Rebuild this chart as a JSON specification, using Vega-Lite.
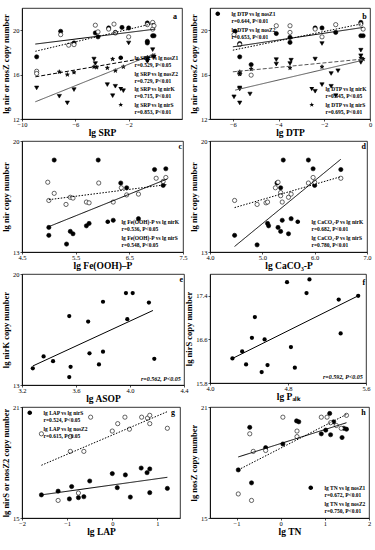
{
"$schema": "https://vega.github.io/schema/vega-lite/v6.json",
"padding": {"left": 1, "top": 7, "right": 4, "bottom": 2},
"background": "white",
"columns": 2,
"bounds": "flush",
"align": {"row": "all", "column": "none"},
"spacing": {"row": 22, "column": 26},
"resolve": {"scale": {"shape": "independent", "fill": "independent", "strokeDash": "independent", "stroke": "independent"}, "legend": {"shape": "independent", "fill": "independent", "strokeDash": "independent", "stroke": "independent"}},
"config": {
  "view": {"stroke": "black", "strokeWidth": 0.8},
  "axis": {"labelFont": "Liberation Serif", "labelFontSize": 6.5, "labelColor": "#000", "labelOverlap": false, "labelFlush": false, "titleFont": "Liberation Serif", "titleFontWeight": "bold", "titleFontSize": 8.5, "titleColor": "black", "domainColor": "black", "tickColor": "black", "tickSize": 2, "tickWidth": 0.7, "domainWidth": 0.8, "labelPadding": 1, "titlePadding": 2, "grid": false},
  "axisX": {"titleFontSize": 9.5, "labelPadding": 0, "titlePadding": 0},
  "legend": {"labelFont": "Liberation Serif", "labelFontSize": 5.5, "labelFontWeight": "bold", "labelColor": "black", "rowPadding": 0, "padding": 1, "offset": 2, "symbolSize": 16, "labelOffset": 13, "symbolStrokeColor": "black", "symbolStrokeWidth": 0.8, "symbolOpacity": 1, "labelLimit": 0},
  "title": {"anchor": "end", "orient": "top", "offset": -13, "dx": -5, "font": "Liberation Serif", "fontWeight": "bold", "fontSize": 8, "color": "black"}
},
"concat": [
 {"width": 160, "height": 111, "title": {"text": "a"},
  "layer": [
   {"data": {"values": [
    {"x":-8.9,"y":17.6,"s":"nosZ1"},{"x":-7.1,"y":19.9,"s":"nosZ1"},{"x":-6.1,"y":18.85,"s":"nosZ1"},{"x":-4.5,"y":19.75,"s":"nosZ1"},{"x":-4.3,"y":19.4,"s":"nosZ1"},{"x":-3.5,"y":20.2,"s":"nosZ1"},{"x":-3.0,"y":19.8,"s":"nosZ1"},{"x":-2.5,"y":20.25,"s":"nosZ1"},{"x":-2.0,"y":20.2,"s":"nosZ1"},{"x":-0.6,"y":20.65,"s":"nosZ1"},{"x":-0.6,"y":19.0,"s":"nosZ1"},{"x":-0.6,"y":18.85,"s":"nosZ1"},{"x":-0.2,"y":19.5,"s":"nosZ1"},{"x":-0.1,"y":19.5,"s":"nosZ1"},
    {"x":-8.9,"y":16.3,"s":"nosZ2"},{"x":-8.9,"y":16.1,"s":"nosZ2"},{"x":-7.1,"y":19.6,"s":"nosZ2"},{"x":-6.5,"y":18.65,"s":"nosZ2"},{"x":-6.1,"y":18.7,"s":"nosZ2"},{"x":-4.5,"y":20.45,"s":"nosZ2"},{"x":-4.3,"y":19.85,"s":"nosZ2"},{"x":-3.5,"y":20.1,"s":"nosZ2"},{"x":-3.1,"y":20.55,"s":"nosZ2"},{"x":-3.0,"y":19.75,"s":"nosZ2"},{"x":-2.0,"y":19.4,"s":"nosZ2"},{"x":-0.6,"y":20.5,"s":"nosZ2"},{"x":-0.2,"y":20.7,"s":"nosZ2"},{"x":-0.2,"y":20.1,"s":"nosZ2"},{"x":-0.1,"y":20.4,"s":"nosZ2"},
    {"x":-8.9,"y":14.8,"s":"nirK"},{"x":-7.2,"y":14.05,"s":"nirK"},{"x":-6.6,"y":13.45,"s":"nirK"},{"x":-6.1,"y":14.65,"s":"nirK"},{"x":-4.6,"y":17.4,"s":"nirK"},{"x":-4.5,"y":17.0,"s":"nirK"},{"x":-3.6,"y":15.1,"s":"nirK"},{"x":-3.2,"y":14.1,"s":"nirK"},{"x":-3.0,"y":14.95,"s":"nirK"},{"x":-2.4,"y":14.55,"s":"nirK"},{"x":-2.0,"y":18.85,"s":"nirK"},{"x":-0.6,"y":17.4,"s":"nirK"},{"x":-0.6,"y":17.2,"s":"nirK"},{"x":-0.2,"y":18.25,"s":"nirK"},{"x":-0.1,"y":17.6,"s":"nirK"},
    {"x":-7.2,"y":16.25,"s":"nirS"},{"x":-6.6,"y":16.0,"s":"nirS"},{"x":-6.1,"y":16.2,"s":"nirS"},{"x":-4.6,"y":16.7,"s":"nirS"},{"x":-4.4,"y":16.65,"s":"nirS"},{"x":-3.6,"y":16.6,"s":"nirS"},{"x":-3.2,"y":17.4,"s":"nirS"},{"x":-3.0,"y":16.35,"s":"nirS"},{"x":-2.4,"y":16.7,"s":"nirS"},{"x":-0.6,"y":17.55,"s":"nirS"},{"x":-0.6,"y":17.3,"s":"nirS"},{"x":-0.2,"y":17.7,"s":"nirS"},{"x":-0.1,"y":17.65,"s":"nirS"}
   ]},
    "mark": {"type": "point", "filled": true, "stroke": "black", "strokeWidth": 0.6, "size": 18, "opacity": 1},
    "encoding": {
     "x": {"field": "x", "type": "quantitative", "scale": {"domain": [-10, 2], "nice": false, "zero": false}, "axis": {"values": [-10,-8,-6,-4,-2,0], "labelOverlap": false, "title": "lg SRP"}},
     "y": {"field": "y", "type": "quantitative", "scale": {"domain": [12, 22], "nice": false, "zero": false}, "axis": {"values": [12,14,16,18,20,22], "labelOverlap": false, "title": "lg nir or nosZ copy number"}},
     "shape": {"field": "s", "type": "nominal", "scale": {"domain": ["nosZ1","nosZ2","nirK","nirS"], "range": ["circle","circle","triangle-down","M0,-1L0.235,-0.324L0.951,-0.309L0.38,0.124L0.588,0.809L0,0.4L-0.588,0.809L-0.38,0.124L-0.951,-0.309L-0.235,-0.324Z"]}, "legend": null},
     "fill": {"field": "s", "type": "nominal", "scale": {"domain": ["nosZ1","nosZ2","nirK","nirS"], "range": ["black","white","black","black"]}, "legend": null}
    }},
   {"data": {"values": [
    {"x":-9,"y":18.75,"s":"nosZ1"},{"x":0,"y":20.1,"s":"nosZ1"},
    {"x":-9,"y":18.1,"s":"nosZ2"},{"x":0,"y":20.65,"s":"nosZ2"},
    {"x":-9,"y":13.55,"s":"nirK"},{"x":0,"y":17.9,"s":"nirK"},
    {"x":-9,"y":15.8,"s":"nirS"},{"x":0,"y":17.65,"s":"nirS"}
   ]},
    "mark": {"type": "line", "strokeWidth": 1},
    "encoding": {
     "x": {"field": "x", "type": "quantitative"},
     "y": {"field": "y", "type": "quantitative"},
     "strokeDash": {"field": "s", "type": "nominal", "scale": {"domain": ["nosZ1","nosZ2","nirK","nirS"], "range": [[1,0],[1.5,1.5],[1,0],[4,2]]}, "legend": null},
     "stroke": {"field": "s", "type": "nominal", "scale": {"domain": ["nosZ1","nosZ2","nirK","nirS"], "range": ["black","black","#555","black"]}, "legend": null}
    }},
   {"data": {"values": [{"leg":"lg SPR vs lg nosZ1"},{"leg":"r=0.529, P<0.05"},{"leg":"lg SRP vs lg nosZ2"},{"leg":"r=0.729, P<0.01"},{"leg":"lg SRP vs lg nirK"},{"leg":"r=0.715, P<0.01"},{"leg":"lg SRP vs lg nirS"},{"leg":"r=0.853, P<0.01"}]},
    "transform": [{"filter": "false"}],
    "mark": {"type": "point", "filled": true, "stroke": "black", "strokeWidth": 0.8, "size": 16, "opacity": 1},
    "encoding": {
     "shape": {"field": "leg", "type": "nominal", "scale": {"domain": ["lg SPR vs lg nosZ1","r=0.529, P<0.05","lg SRP vs lg nosZ2","r=0.729, P<0.01","lg SRP vs lg nirK","r=0.715, P<0.01","lg SRP vs lg nirS","r=0.853, P<0.01"], "range": ["M-0.15,0A1.15,1.15,0,1,1,2.15,0A1.15,1.15,0,1,1,-0.15,0Z","M-1,0L7,0","M-0.15,0A1.15,1.15,0,1,1,2.15,0A1.15,1.15,0,1,1,-0.15,0Z","M-1,0L7,0","M-0.2,-0.9L2.2,-0.9L1,1.2Z","M-1,0L7,0","M1,-1.3L1.305,-0.421L2.236,-0.402L1.494,0.161L1.764,1.052L1,0.52L0.236,1.052L0.506,0.161L-0.236,-0.402L0.695,-0.421Z","M-1,0L7,0"]}, "legend": {"orient": "bottom-right", "title": null}},
     "fill": {"field": "leg", "type": "nominal", "scale": {"domain": ["lg SPR vs lg nosZ1","r=0.529, P<0.05","lg SRP vs lg nosZ2","r=0.729, P<0.01","lg SRP vs lg nirK","r=0.715, P<0.01","lg SRP vs lg nirS","r=0.853, P<0.01"], "range": ["black","transparent","white","transparent","black","transparent","black","transparent"]}, "legend": {"orient": "bottom-right", "title": null}},
     "strokeDash": {"field": "leg", "type": "nominal", "scale": {"domain": ["lg SPR vs lg nosZ1","r=0.529, P<0.05","lg SRP vs lg nosZ2","r=0.729, P<0.01","lg SRP vs lg nirK","r=0.715, P<0.01","lg SRP vs lg nirS","r=0.853, P<0.01"], "range": [[1,0],[1,0],[1,0],[1.5,1.5],[1,0],[1,0],[1,0],[4,2]]}, "legend": {"orient": "bottom-right", "title": null}}
    }}
  ],
  "resolve": {"scale": {"shape": "independent", "fill": "independent", "strokeDash": "independent", "stroke": "independent"}}
 },
 {"width": 160, "height": 111, "title": {"text": "b"},
  "layer": [
   {"data": {"values": [
    {"x":-5.9,"y":19.9,"s":"nosZ1"},{"x":-5.7,"y":18.8,"s":"nosZ1"},{"x":-5.7,"y":17.6,"s":"nosZ1"},{"x":-5.2,"y":16.9,"s":"nosZ1"},{"x":-4.1,"y":19.7,"s":"nosZ1"},{"x":-3.5,"y":19.35,"s":"nosZ1"},{"x":-3.5,"y":18.9,"s":"nosZ1"},{"x":-2.4,"y":20.2,"s":"nosZ1"},{"x":-2.1,"y":20.2,"s":"nosZ1"},{"x":-1.5,"y":19.8,"s":"nosZ1"},{"x":-0.4,"y":20.7,"s":"nosZ1"},{"x":-0.4,"y":19.5,"s":"nosZ1"},{"x":-0.3,"y":19.5,"s":"nosZ1"},
    {"x":-5.95,"y":19.6,"s":"nosZ2"},{"x":-5.7,"y":18.7,"s":"nosZ2"},{"x":-5.7,"y":16.1,"s":"nosZ2"},{"x":-5.2,"y":15.95,"s":"nosZ2"},{"x":-4.1,"y":20.4,"s":"nosZ2"},{"x":-3.5,"y":20.4,"s":"nosZ2"},{"x":-3.5,"y":19.8,"s":"nosZ2"},{"x":-2.4,"y":20.1,"s":"nosZ2"},{"x":-2.1,"y":19.4,"s":"nosZ2"},{"x":-1.5,"y":20.5,"s":"nosZ2"},{"x":-0.4,"y":20.55,"s":"nosZ2"},{"x":-0.3,"y":20.1,"s":"nosZ2"},
    {"x":-5.95,"y":14.0,"s":"nirK"},{"x":-5.7,"y":14.8,"s":"nirK"},{"x":-5.7,"y":14.7,"s":"nirK"},{"x":-5.7,"y":13.45,"s":"nirK"},{"x":-5.25,"y":14.25,"s":"nirK"},{"x":-4.1,"y":17.35,"s":"nirK"},{"x":-4.1,"y":16.95,"s":"nirK"},{"x":-3.5,"y":17.0,"s":"nirK"},{"x":-3.45,"y":17.3,"s":"nirK"},{"x":-2.4,"y":17.4,"s":"nirK"},{"x":-2.4,"y":14.5,"s":"nirK"},{"x":-2.1,"y":18.8,"s":"nirK"},{"x":-2.1,"y":15.1,"s":"nirK"},{"x":-1.7,"y":14.95,"s":"nirK"},{"x":-1.7,"y":16.1,"s":"nirK"},{"x":-1.5,"y":14.1,"s":"nirK"},{"x":-1.4,"y":16.35,"s":"nirK"},{"x":-0.4,"y":18.2,"s":"nirK"},{"x":-0.4,"y":17.7,"s":"nirK"},{"x":-0.4,"y":17.1,"s":"nirK"},
    {"x":-5.7,"y":16.25,"s":"nirS"},{"x":-5.7,"y":16.05,"s":"nirS"},{"x":-5.2,"y":16.5,"s":"nirS"},{"x":-3.5,"y":16.6,"s":"nirS"},{"x":-2.1,"y":16.7,"s":"nirS"},{"x":-0.4,"y":17.5,"s":"nirS"},{"x":-0.3,"y":17.4,"s":"nirS"}
   ]},
    "mark": {"type": "point", "filled": true, "stroke": "black", "strokeWidth": 0.6, "size": 18, "opacity": 1},
    "encoding": {
     "x": {"field": "x", "type": "quantitative", "scale": {"domain": [-7, 0], "nice": false, "zero": false}, "axis": {"values": [-6,-4,-2,0], "labelOverlap": false, "title": "lg DTP"}},
     "y": {"field": "y", "type": "quantitative", "scale": {"domain": [12, 22], "nice": false, "zero": false}, "axis": {"values": [12,14,16,18,20,22], "labelOverlap": false, "title": "lg nir or nosZ copy number"}},
     "shape": {"field": "s", "type": "nominal", "scale": {"domain": ["nosZ1","nosZ2","nirK","nirS"], "range": ["circle","circle","triangle-down","M0,-1L0.235,-0.324L0.951,-0.309L0.38,0.124L0.588,0.809L0,0.4L-0.588,0.809L-0.38,0.124L-0.951,-0.309L-0.235,-0.324Z"]}, "legend": null},
     "fill": {"field": "s", "type": "nominal", "scale": {"domain": ["nosZ1","nosZ2","nirK","nirS"], "range": ["black","white","black","black"]}, "legend": null}
    }},
   {"data": {"values": [
    {"x":-6,"y":18.5,"s":"nosZ1"},{"x":-0.3,"y":20.25,"s":"nosZ1"},
    {"x":-6,"y":18.2,"s":"nosZ2"},{"x":-0.3,"y":20.6,"s":"nosZ2"},
    {"x":-5.9,"y":14.6,"s":"nirK"},{"x":-0.3,"y":17.3,"s":"nirK"},
    {"x":-6,"y":16.25,"s":"nirS"},{"x":-0.3,"y":17.4,"s":"nirS"}
   ]},
    "mark": {"type": "line", "strokeWidth": 1},
    "encoding": {
     "x": {"field": "x", "type": "quantitative"},
     "y": {"field": "y", "type": "quantitative"},
     "strokeDash": {"field": "s", "type": "nominal", "scale": {"domain": ["nosZ1","nosZ2","nirK","nirS"], "range": [[1,0],[1.5,1.5],[1,0],[4,2]]}, "legend": null},
     "stroke": {"field": "s", "type": "nominal", "scale": {"domain": ["nosZ1","nosZ2","nirK","nirS"], "range": ["black","black","#555","#555"]}, "legend": null}
    }},
   {"data": {"values": [{"leg":"lg DTP vs lg nosZ1"},{"leg":"r=0.644, P<0.01"},{"leg":"lg DTP vs lg nosZ2"},{"leg":"r=0.653, P<0.01"}]},
    "transform": [{"filter": "false"}],
    "mark": {"type": "point", "filled": true, "stroke": "black", "strokeWidth": 0.8, "size": 16, "opacity": 1},
    "encoding": {
     "shape": {"field": "leg", "type": "nominal", "scale": {"domain": ["lg DTP vs lg nosZ1","r=0.644, P<0.01","lg DTP vs lg nosZ2","r=0.653, P<0.01"], "range": ["M-0.15,0A1.15,1.15,0,1,1,2.15,0A1.15,1.15,0,1,1,-0.15,0Z","M-1,0L7,0","M-0.15,0A1.15,1.15,0,1,1,2.15,0A1.15,1.15,0,1,1,-0.15,0Z","M-1,0L7,0"]}, "legend": {"orient": "top-left", "title": null}},
     "fill": {"field": "leg", "type": "nominal", "scale": {"domain": ["lg DTP vs lg nosZ1","r=0.644, P<0.01","lg DTP vs lg nosZ2","r=0.653, P<0.01"], "range": ["black","transparent","white","transparent"]}, "legend": {"orient": "top-left", "title": null}},
     "strokeDash": {"field": "leg", "type": "nominal", "scale": {"domain": ["lg DTP vs lg nosZ1","r=0.644, P<0.01","lg DTP vs lg nosZ2","r=0.653, P<0.01"], "range": [[1,0],[1,0],[1,0],[1.5,1.5]]}, "legend": {"orient": "top-left", "title": null}}
    }},
   {"data": {"values": [{"leg":"lg DTP vs lg nirK"},{"leg":"r=0.545, P<0.05"},{"leg":"lg DTP vs lg nirS"},{"leg":"r=0.695, P<0.01"}]},
    "transform": [{"filter": "false"}],
    "mark": {"type": "point", "filled": true, "stroke": "black", "strokeWidth": 0.8, "size": 16, "opacity": 1},
    "encoding": {
     "shape": {"field": "leg", "type": "nominal", "scale": {"domain": ["lg DTP vs lg nirK","r=0.545, P<0.05","lg DTP vs lg nirS","r=0.695, P<0.01"], "range": ["M-0.2,-0.9L2.2,-0.9L1,1.2Z","M-1,0L7,0","M1,-1.3L1.305,-0.421L2.236,-0.402L1.494,0.161L1.764,1.052L1,0.52L0.236,1.052L0.506,0.161L-0.236,-0.402L0.695,-0.421Z","M-1,0L7,0"]}, "legend": {"orient": "bottom-right", "title": null}},
     "fill": {"field": "leg", "type": "nominal", "scale": {"domain": ["lg DTP vs lg nirK","r=0.545, P<0.05","lg DTP vs lg nirS","r=0.695, P<0.01"], "range": ["black","transparent","black","transparent"]}, "legend": {"orient": "bottom-right", "title": null}},
     "strokeDash": {"field": "leg", "type": "nominal", "scale": {"domain": ["lg DTP vs lg nirK","r=0.545, P<0.05","lg DTP vs lg nirS","r=0.695, P<0.01"], "range": [[1,0],[1,0],[1,0],[4,2]]}, "legend": {"orient": "bottom-right", "title": null}}
    }}
  ],
  "resolve": {"scale": {"shape": "independent", "fill": "independent", "strokeDash": "independent", "stroke": "independent"}}
 },
 {"width": 161, "height": 111, "title": {"text": "c"},
  "layer": [
   {"data": {"values": [
    {"x":5.0,"y":14.55,"s":"nirK"},{"x":5.0,"y":14.05,"s":"nirK"},{"x":5.1,"y":18.8,"s":"nirK"},{"x":5.33,"y":13.5,"s":"nirK"},{"x":5.4,"y":14.3,"s":"nirK"},{"x":5.45,"y":14.15,"s":"nirK"},{"x":5.7,"y":14.65,"s":"nirK"},{"x":5.75,"y":14.8,"s":"nirK"},{"x":5.92,"y":18.8,"s":"nirK"},{"x":6.2,"y":15.0,"s":"nirK"},{"x":6.34,"y":17.35,"s":"nirK"},{"x":6.45,"y":17.05,"s":"nirK"},{"x":6.67,"y":15.1,"s":"nirK"},{"x":6.97,"y":18.2,"s":"nirK"},{"x":7.13,"y":17.2,"s":"nirK"},{"x":7.18,"y":18.25,"s":"nirK"},
    {"x":4.98,"y":17.4,"s":"nirS"},{"x":5.0,"y":16.25,"s":"nirS"},{"x":5.1,"y":16.7,"s":"nirS"},{"x":5.32,"y":16.0,"s":"nirS"},{"x":5.4,"y":16.45,"s":"nirS"},{"x":5.45,"y":16.4,"s":"nirS"},{"x":5.7,"y":16.15,"s":"nirS"},{"x":5.75,"y":16.1,"s":"nirS"},{"x":5.93,"y":17.35,"s":"nirS"},{"x":6.2,"y":16.15,"s":"nirS"},{"x":6.35,"y":17.05,"s":"nirS"},{"x":6.45,"y":16.6,"s":"nirS"},{"x":6.67,"y":16.65,"s":"nirS"},{"x":7.0,"y":17.65,"s":"nirS"},{"x":7.18,"y":17.7,"s":"nirS"},{"x":7.13,"y":17.45,"s":"nirS"}
   ]},
    "mark": {"type": "point", "filled": true, "stroke": "black", "strokeWidth": 0.6, "size": 18, "opacity": 1},
    "encoding": {
     "x": {"field": "x", "type": "quantitative", "scale": {"domain": [4.5, 7.5], "nice": false, "zero": false}, "axis": {"values": [4.5,5,5.5,6,6.5,7,7.5], "format": ".1f", "labelOverlap": false, "title": "lg Fe(OOH)–P"}},
     "y": {"field": "y", "type": "quantitative", "scale": {"domain": [13, 20], "nice": false, "zero": false}, "axis": {"values": [13,14,15,16,17,18,19,20], "labelOverlap": false, "title": "lg nir copy number"}},
     "shape": {"field": "s", "type": "nominal", "scale": {"domain": ["nirK","nirS"], "range": ["circle","circle"]}, "legend": null},
     "fill": {"field": "s", "type": "nominal", "scale": {"domain": ["nirK","nirS"], "range": ["black","white"]}, "legend": null}
    }},
   {"data": {"values": [
    {"x":5.0,"y":14.6,"s":"nirK"},{"x":7.2,"y":17.6,"s":"nirK"},
    {"x":5.0,"y":16.3,"s":"nirS"},{"x":7.2,"y":17.25,"s":"nirS"}
   ]},
    "mark": {"type": "line", "strokeWidth": 1, "color": "black"},
    "encoding": {
     "x": {"field": "x", "type": "quantitative"},
     "y": {"field": "y", "type": "quantitative"},
     "strokeDash": {"field": "s", "type": "nominal", "scale": {"domain": ["nirK","nirS"], "range": [[1,0],[1.5,1.5]]}, "legend": null}
    }},
   {"data": {"values": [{"leg":"lg Fe(OOH)-P vs lg nirK"},{"leg":"r=0.536, P<0.05"},{"leg":"lg Fe(OOH)-P vs lg nirS"},{"leg":"r=0.548, P<0.05"}]},
    "transform": [{"filter": "false"}],
    "mark": {"type": "point", "filled": true, "stroke": "black", "strokeWidth": 0.8, "size": 16, "opacity": 1},
    "encoding": {
     "shape": {"field": "leg", "type": "nominal", "scale": {"domain": ["lg Fe(OOH)-P vs lg nirK","r=0.536, P<0.05","lg Fe(OOH)-P vs lg nirS","r=0.548, P<0.05"], "range": ["M-0.15,0A1.15,1.15,0,1,1,2.15,0A1.15,1.15,0,1,1,-0.15,0Z","M-1,0L7,0","M-0.15,0A1.15,1.15,0,1,1,2.15,0A1.15,1.15,0,1,1,-0.15,0Z","M-1,0L7,0"]}, "legend": {"orient": "bottom-right", "title": null}},
     "fill": {"field": "leg", "type": "nominal", "scale": {"domain": ["lg Fe(OOH)-P vs lg nirK","r=0.536, P<0.05","lg Fe(OOH)-P vs lg nirS","r=0.548, P<0.05"], "range": ["black","transparent","white","transparent"]}, "legend": {"orient": "bottom-right", "title": null}},
     "strokeDash": {"field": "leg", "type": "nominal", "scale": {"domain": ["lg Fe(OOH)-P vs lg nirK","r=0.536, P<0.05","lg Fe(OOH)-P vs lg nirS","r=0.548, P<0.05"], "range": [[1,0],[1,0],[1,0],[1.5,1.5]]}, "legend": {"orient": "bottom-right", "title": null}}
    }}
  ],
  "resolve": {"scale": {"shape": "independent", "fill": "independent", "strokeDash": "independent"}}
 },
 {"width": 157, "height": 111, "title": {"text": "d"},
  "layer": [
   {"data": {"values": [
    {"x":4.47,"y":14.05,"s":"nirK"},{"x":4.9,"y":13.45,"s":"nirK"},{"x":5.1,"y":14.8,"s":"nirK"},{"x":5.12,"y":14.65,"s":"nirK"},{"x":5.28,"y":17.35,"s":"nirK"},{"x":5.35,"y":17.05,"s":"nirK"},{"x":5.4,"y":18.8,"s":"nirK"},{"x":5.3,"y":14.55,"s":"nirK"},{"x":5.35,"y":14.3,"s":"nirK"},{"x":5.38,"y":15.0,"s":"nirK"},{"x":5.5,"y":14.15,"s":"nirK"},{"x":5.55,"y":15.1,"s":"nirK"},{"x":5.88,"y":18.8,"s":"nirK"},{"x":5.97,"y":18.25,"s":"nirK"},{"x":6.0,"y":17.2,"s":"nirK"},{"x":6.5,"y":18.2,"s":"nirK"},
    {"x":4.47,"y":16.25,"s":"nirS"},{"x":4.9,"y":16.0,"s":"nirS"},{"x":5.07,"y":16.1,"s":"nirS"},{"x":5.1,"y":16.15,"s":"nirS"},{"x":5.25,"y":17.05,"s":"nirS"},{"x":5.3,"y":17.4,"s":"nirS"},{"x":5.35,"y":16.75,"s":"nirS"},{"x":5.35,"y":16.55,"s":"nirS"},{"x":5.38,"y":16.15,"s":"nirS"},{"x":5.5,"y":16.45,"s":"nirS"},{"x":5.55,"y":16.65,"s":"nirS"},{"x":5.88,"y":17.35,"s":"nirS"},{"x":5.97,"y":17.7,"s":"nirS"},{"x":6.0,"y":17.4,"s":"nirS"},{"x":6.5,"y":17.65,"s":"nirS"}
   ]},
    "mark": {"type": "point", "filled": true, "stroke": "black", "strokeWidth": 0.6, "size": 18, "opacity": 1},
    "encoding": {
     "x": {"field": "x", "type": "quantitative", "scale": {"domain": [4, 7], "nice": false, "zero": false}, "axis": {"values": [4,4.5,5,5.5,6,6.5,7], "format": ".1f", "labelOverlap": false, "title": "lg CaCO₃-P"}},
     "y": {"field": "y", "type": "quantitative", "scale": {"domain": [13, 20], "nice": false, "zero": false}, "axis": {"values": [13,14,15,16,17,18,19,20], "labelOverlap": false, "title": "lg nir copy number"}},
     "shape": {"field": "s", "type": "nominal", "scale": {"domain": ["nirK","nirS"], "range": ["circle","circle"]}, "legend": null},
     "fill": {"field": "s", "type": "nominal", "scale": {"domain": ["nirK","nirS"], "range": ["black","white"]}, "legend": null}
    }},
   {"data": {"values": [
    {"x":4.47,"y":13.35,"s":"nirK"},{"x":6.5,"y":18.85,"s":"nirK"},
    {"x":4.47,"y":15.8,"s":"nirS"},{"x":6.5,"y":17.75,"s":"nirS"}
   ]},
    "mark": {"type": "line", "strokeWidth": 1, "color": "black"},
    "encoding": {
     "x": {"field": "x", "type": "quantitative"},
     "y": {"field": "y", "type": "quantitative"},
     "strokeDash": {"field": "s", "type": "nominal", "scale": {"domain": ["nirK","nirS"], "range": [[1,0],[1.5,1.5]]}, "legend": null}
    }},
   {"data": {"values": [{"leg":"lg CaCO₃-P vs lg nirK"},{"leg":"r=0.682, P<0.01"},{"leg":"lg CaCO₃-P vs lg nirS"},{"leg":"r=0.780, P<0.01"}]},
    "transform": [{"filter": "false"}],
    "mark": {"type": "point", "filled": true, "stroke": "black", "strokeWidth": 0.8, "size": 16, "opacity": 1},
    "encoding": {
     "shape": {"field": "leg", "type": "nominal", "scale": {"domain": ["lg CaCO₃-P vs lg nirK","r=0.682, P<0.01","lg CaCO₃-P vs lg nirS","r=0.780, P<0.01"], "range": ["M-0.15,0A1.15,1.15,0,1,1,2.15,0A1.15,1.15,0,1,1,-0.15,0Z","M-1,0L7,0","M-0.15,0A1.15,1.15,0,1,1,2.15,0A1.15,1.15,0,1,1,-0.15,0Z","M-1,0L7,0"]}, "legend": {"orient": "bottom-right", "title": null}},
     "fill": {"field": "leg", "type": "nominal", "scale": {"domain": ["lg CaCO₃-P vs lg nirK","r=0.682, P<0.01","lg CaCO₃-P vs lg nirS","r=0.780, P<0.01"], "range": ["black","transparent","white","transparent"]}, "legend": {"orient": "bottom-right", "title": null}},
     "strokeDash": {"field": "leg", "type": "nominal", "scale": {"domain": ["lg CaCO₃-P vs lg nirK","r=0.682, P<0.01","lg CaCO₃-P vs lg nirS","r=0.780, P<0.01"], "range": [[1,0],[1,0],[1,0],[1.5,1.5]]}, "legend": {"orient": "bottom-right", "title": null}}
    }}
  ],
  "resolve": {"scale": {"shape": "independent", "fill": "independent", "strokeDash": "independent"}}
 },
 {"width": 162, "height": 111, "title": {"text": "e"},
  "layer": [
   {"data": {"values": [
    {"x":3.28,"y":14.05},{"x":3.36,"y":14.8},{"x":3.43,"y":14.5},{"x":3.55,"y":17.35},{"x":3.56,"y":14.15},{"x":3.55,"y":13.5},{"x":3.69,"y":17.0},{"x":3.7,"y":15.0},{"x":3.77,"y":14.3},{"x":3.8,"y":18.25},{"x":3.8,"y":15.1},{"x":3.97,"y":18.8},{"x":4.02,"y":18.8},{"x":3.98,"y":17.15},{"x":4.14,"y":18.2},{"x":4.18,"y":14.65}
   ]},
    "mark": {"type": "point", "filled": true, "shape": "circle", "color": "black", "size": 18, "opacity": 1},
    "encoding": {
     "x": {"field": "x", "type": "quantitative", "scale": {"domain": [3.2, 4.4], "nice": false, "zero": false}, "axis": {"values": [3.2,3.4,3.6,3.8,4.0,4.2,4.4], "format": ".1f", "labelOverlap": false, "title": "lg ASOP"}},
     "y": {"field": "y", "type": "quantitative", "scale": {"domain": [13, 20], "nice": false, "zero": false}, "axis": {"values": [13,14,15,16,17,18,19,20], "labelOverlap": false, "title": "lg nirK copy number"}}
    }},
   {"data": {"values": [{"x":3.28,"y":14.2},{"x":4.17,"y":17.7}]},
    "mark": {"type": "line", "strokeWidth": 1, "color": "black"},
    "encoding": {"x": {"field": "x", "type": "quantitative"}, "y": {"field": "y", "type": "quantitative"}}},
   {"data": {"values": [{"leg":"r=0.562, P<0.05"}]},
    "transform": [{"filter": "false"}],
    "mark": {"type": "point", "filled": true, "stroke": "black", "size": 16},
    "encoding": {
     "shape": {"field": "leg", "type": "nominal", "scale": {"domain": ["r=0.562, P<0.05"], "range": ["M-1,0L7,0"]}, "legend": {"orient": "bottom-right", "title": null, "symbolOpacity": 0, "labelOffset": -2, "labelFontStyle": "italic", "labelFontSize": 6}}
    }}
  ],
  "resolve": {"scale": {"shape": "independent"}}
 },
 {"width": 156, "height": 109, "title": {"text": "f"},
  "layer": [
   {"data": {"values": [
    {"x":4.23,"y":16.25},{"x":4.33,"y":16.38},{"x":4.37,"y":16.14},{"x":4.43,"y":16.63},{"x":4.46,"y":17.01},{"x":4.53,"y":16.0},{"x":4.56,"y":16.6},{"x":4.59,"y":16.13},{"x":4.79,"y":17.65},{"x":4.83,"y":16.46},{"x":4.87,"y":16.08},{"x":4.99,"y":17.45},{"x":5.02,"y":17.7},{"x":5.32,"y":17.33},{"x":5.34,"y":16.71},{"x":5.52,"y":17.4}
   ]},
    "mark": {"type": "point", "filled": true, "shape": "circle", "color": "black", "size": 18, "opacity": 1},
    "encoding": {
     "x": {"field": "x", "type": "quantitative", "scale": {"domain": [4.0, 5.6], "nice": false, "zero": false}, "axis": {"values": [4.0,4.2,4.4,4.6,4.8,5.0,5.2,5.4,5.6], "format": ".1f", "labelOverlap": false, "title": "lg Pₐₗₖ"}},
     "y": {"field": "y", "type": "quantitative", "scale": {"domain": [15.8, 17.8], "nice": false, "zero": false}, "axis": {"values": [15.8,16.0,16.2,16.4,16.6,16.8,17.0,17.2,17.4,17.6,17.8], "format": ".1f", "labelOverlap": false, "title": "lg nirS copy number"}}
    }},
   {"data": {"values": [{"x":4.23,"y":16.25},{"x":5.52,"y":17.4}]},
    "mark": {"type": "line", "strokeWidth": 1, "color": "black"},
    "encoding": {"x": {"field": "x", "type": "quantitative"}, "y": {"field": "y", "type": "quantitative"}}},
   {"data": {"values": [{"leg":"r=0.592, P<0.05"}]},
    "transform": [{"filter": "false"}],
    "mark": {"type": "point", "filled": true, "stroke": "black", "size": 16},
    "encoding": {
     "shape": {"field": "leg", "type": "nominal", "scale": {"domain": ["r=0.592, P<0.05"], "range": ["M-1,0L7,0"]}, "legend": {"orient": "bottom-right", "title": null, "symbolOpacity": 0, "labelOffset": -2, "labelFontStyle": "italic", "labelFontSize": 6}}
    }}
  ],
  "resolve": {"scale": {"shape": "independent"}}
 },
 {"width": 158, "height": 111, "title": {"text": "g"},
  "layer": [
   {"data": {"values": [
    {"x":-1.57,"y":16.25,"s":"nirS"},{"x":-1.2,"y":16.45,"s":"nirS"},{"x":-0.95,"y":16.03,"s":"nirS"},{"x":-0.9,"y":16.7,"s":"nirS"},{"x":-0.75,"y":16.1,"s":"nirS"},{"x":-0.63,"y":16.15,"s":"nirS"},{"x":-0.5,"y":17.0,"s":"nirS"},{"x":0.0,"y":17.4,"s":"nirS"},{"x":0.11,"y":16.64,"s":"nirS"},{"x":0.29,"y":17.33,"s":"nirS"},{"x":0.4,"y":16.13,"s":"nirS"},{"x":0.64,"y":17.7,"s":"nirS"},{"x":0.77,"y":17.45,"s":"nirS"},{"x":0.83,"y":17.65,"s":"nirS"},{"x":0.83,"y":16.37,"s":"nirS"},{"x":1.22,"y":16.6,"s":"nirS"},
    {"x":-1.57,"y":19.55,"s":"nosZ2"},{"x":-1.2,"y":15.95,"s":"nosZ2"},{"x":-0.93,"y":19.4,"s":"nosZ2"},{"x":-0.93,"y":18.6,"s":"nosZ2"},{"x":-0.75,"y":16.35,"s":"nosZ2"},{"x":-0.63,"y":18.6,"s":"nosZ2"},{"x":-0.48,"y":20.45,"s":"nosZ2"},{"x":0.0,"y":19.7,"s":"nosZ2"},{"x":0.12,"y":20.1,"s":"nosZ2"},{"x":0.28,"y":20.45,"s":"nosZ2"},{"x":0.38,"y":19.8,"s":"nosZ2"},{"x":0.65,"y":20.45,"s":"nosZ2"},{"x":0.78,"y":20.4,"s":"nosZ2"},{"x":0.83,"y":20.55,"s":"nosZ2"},{"x":0.83,"y":20.1,"s":"nosZ2"},{"x":1.22,"y":19.85,"s":"nosZ2"}
   ]},
    "mark": {"type": "point", "filled": true, "stroke": "black", "strokeWidth": 0.6, "size": 18, "opacity": 1},
    "encoding": {
     "x": {"field": "x", "type": "quantitative", "scale": {"domain": [-2, 1.5], "nice": false, "zero": false}, "axis": {"values": [-2,-1,0,1], "labelOverlap": false, "title": "lg LAP"}},
     "y": {"field": "y", "type": "quantitative", "scale": {"domain": [15, 21], "nice": false, "zero": false}, "axis": {"values": [15,16,17,18,19,20,21], "labelOverlap": false, "title": "lg nirS or nosZ2 copy number"}},
     "shape": {"field": "s", "type": "nominal", "scale": {"domain": ["nirS","nosZ2"], "range": ["circle","circle"]}, "legend": null},
     "fill": {"field": "s", "type": "nominal", "scale": {"domain": ["nirS","nosZ2"], "range": ["black","white"]}, "legend": null}
    }},
   {"data": {"values": [
    {"x":-1.57,"y":16.25,"s":"nirS"},{"x":1.22,"y":17.2,"s":"nirS"},
    {"x":-1.57,"y":17.85,"s":"nosZ2"},{"x":1.22,"y":20.75,"s":"nosZ2"}
   ]},
    "mark": {"type": "line", "strokeWidth": 1, "color": "black"},
    "encoding": {
     "x": {"field": "x", "type": "quantitative"},
     "y": {"field": "y", "type": "quantitative"},
     "strokeDash": {"field": "s", "type": "nominal", "scale": {"domain": ["nirS","nosZ2"], "range": [[1,0],[1.5,1.5]]}, "legend": null}
    }},
   {"data": {"values": [{"leg":"lg LAP vs lg nirS"},{"leg":"r=0.524, P<0.05"},{"leg":"lg LAP vs lg nosZ2"},{"leg":"r=0.615, P<0.05"}]},
    "transform": [{"filter": "false"}],
    "mark": {"type": "point", "filled": true, "stroke": "black", "strokeWidth": 0.8, "size": 16, "opacity": 1},
    "encoding": {
     "shape": {"field": "leg", "type": "nominal", "scale": {"domain": ["lg LAP vs lg nirS","r=0.524, P<0.05","lg LAP vs lg nosZ2","r=0.615, P<0.05"], "range": ["M-0.15,0A1.15,1.15,0,1,1,2.15,0A1.15,1.15,0,1,1,-0.15,0Z","M-1,0L7,0","M-0.15,0A1.15,1.15,0,1,1,2.15,0A1.15,1.15,0,1,1,-0.15,0Z","M-1,0L7,0"]}, "legend": {"orient": "top-left", "title": null}},
     "fill": {"field": "leg", "type": "nominal", "scale": {"domain": ["lg LAP vs lg nirS","r=0.524, P<0.05","lg LAP vs lg nosZ2","r=0.615, P<0.05"], "range": ["black","transparent","white","transparent"]}, "legend": {"orient": "top-left", "title": null}},
     "strokeDash": {"field": "leg", "type": "nominal", "scale": {"domain": ["lg LAP vs lg nirS","r=0.524, P<0.05","lg LAP vs lg nosZ2","r=0.615, P<0.05"], "range": [[1,0],[1,0],[1,0],[1.5,1.5]]}, "legend": {"orient": "top-left", "title": null}}
    }}
  ],
  "resolve": {"scale": {"shape": "independent", "fill": "independent", "strokeDash": "independent"}}
 },
 {"width": 159, "height": 111, "title": {"text": "h"},
  "layer": [
   {"data": {"values": [
    {"x":-0.96,"y":17.6,"s":"nosZ1"},{"x":-0.7,"y":19.9,"s":"nosZ1"},{"x":-0.66,"y":16.9,"s":"nosZ1"},{"x":-0.34,"y":18.8,"s":"nosZ1"},{"x":0.05,"y":19.0,"s":"nosZ1"},{"x":0.36,"y":20.25,"s":"nosZ1"},{"x":0.41,"y":20.2,"s":"nosZ1"},{"x":0.92,"y":19.55,"s":"nosZ1"},{"x":1.02,"y":19.75,"s":"nosZ1"},{"x":1.11,"y":20.65,"s":"nosZ1"},{"x":1.13,"y":19.5,"s":"nosZ1"},{"x":1.2,"y":20.2,"s":"nosZ1"},{"x":1.39,"y":19.35,"s":"nosZ1"},{"x":1.43,"y":19.85,"s":"nosZ1"},{"x":1.49,"y":19.8,"s":"nosZ1"},
    {"x":-0.96,"y":16.3,"s":"nosZ2"},{"x":-0.7,"y":19.55,"s":"nosZ2"},{"x":-0.66,"y":15.95,"s":"nosZ2"},{"x":-0.62,"y":18.6,"s":"nosZ2"},{"x":-0.34,"y":18.65,"s":"nosZ2"},{"x":0.05,"y":20.45,"s":"nosZ2"},{"x":0.37,"y":19.7,"s":"nosZ2"},{"x":0.37,"y":19.4,"s":"nosZ2"},{"x":0.92,"y":20.45,"s":"nosZ2"},{"x":1.05,"y":20.45,"s":"nosZ2"},{"x":1.13,"y":20.15,"s":"nosZ2"},{"x":1.26,"y":20.0,"s":"nosZ2"},{"x":1.37,"y":19.85,"s":"nosZ2"},{"x":1.49,"y":20.55,"s":"nosZ2"}
   ]},
    "mark": {"type": "point", "filled": true, "stroke": "black", "strokeWidth": 0.6, "size": 18, "opacity": 1},
    "encoding": {
     "x": {"field": "x", "type": "quantitative", "scale": {"domain": [-1.6, 2], "nice": false, "zero": false}, "axis": {"values": [-1,0,1,2], "labelOverlap": false, "title": "lg TN"}},
     "y": {"field": "y", "type": "quantitative", "scale": {"domain": [15, 21], "nice": false, "zero": false}, "axis": {"values": [15,16,17,18,19,20,21], "labelOverlap": false, "title": "lg nosZ copy number"}},
     "shape": {"field": "s", "type": "nominal", "scale": {"domain": ["nosZ1","nosZ2"], "range": ["circle","circle"]}, "legend": null},
     "fill": {"field": "s", "type": "nominal", "scale": {"domain": ["nosZ1","nosZ2"], "range": ["black","white"]}, "legend": null}
    }},
   {"data": {"values": [
    {"x":-0.96,"y":18.3,"s":"nosZ1"},{"x":1.49,"y":20.15,"s":"nosZ1"},
    {"x":-0.96,"y":17.6,"s":"nosZ2"},{"x":1.49,"y":20.6,"s":"nosZ2"}
   ]},
    "mark": {"type": "line", "strokeWidth": 1, "color": "black"},
    "encoding": {
     "x": {"field": "x", "type": "quantitative"},
     "y": {"field": "y", "type": "quantitative"},
     "strokeDash": {"field": "s", "type": "nominal", "scale": {"domain": ["nosZ1","nosZ2"], "range": [[1,0],[1.5,1.5]]}, "legend": null}
    }},
   {"data": {"values": [{"leg":"lg TN vs lg nosZ1"},{"leg":"r=0.672, P<0.01"},{"leg":"lg TN vs lg nosZ2"},{"leg":"r=0.750, P<0.01"}]},
    "transform": [{"filter": "false"}],
    "mark": {"type": "point", "filled": true, "stroke": "black", "strokeWidth": 0.8, "size": 16, "opacity": 1},
    "encoding": {
     "shape": {"field": "leg", "type": "nominal", "scale": {"domain": ["lg TN vs lg nosZ1","r=0.672, P<0.01","lg TN vs lg nosZ2","r=0.750, P<0.01"], "range": ["M-0.15,0A1.15,1.15,0,1,1,2.15,0A1.15,1.15,0,1,1,-0.15,0Z","M-1,0L7,0","M-0.15,0A1.15,1.15,0,1,1,2.15,0A1.15,1.15,0,1,1,-0.15,0Z","M-1,0L7,0"]}, "legend": {"orient": "bottom-right", "title": null}},
     "fill": {"field": "leg", "type": "nominal", "scale": {"domain": ["lg TN vs lg nosZ1","r=0.672, P<0.01","lg TN vs lg nosZ2","r=0.750, P<0.01"], "range": ["black","transparent","white","transparent"]}, "legend": {"orient": "bottom-right", "title": null}},
     "strokeDash": {"field": "leg", "type": "nominal", "scale": {"domain": ["lg TN vs lg nosZ1","r=0.672, P<0.01","lg TN vs lg nosZ2","r=0.750, P<0.01"], "range": [[1,0],[1,0],[1,0],[1.5,1.5]]}, "legend": {"orient": "bottom-right", "title": null}}
    }}
  ],
  "resolve": {"scale": {"shape": "independent", "fill": "independent", "strokeDash": "independent"}}
 }
]
}
